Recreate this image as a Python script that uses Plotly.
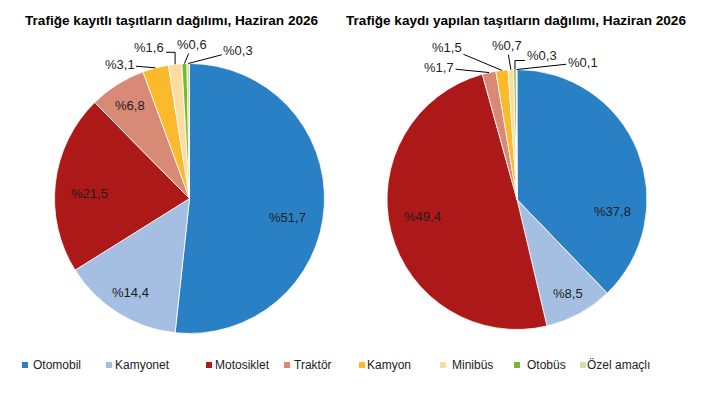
import math
import plotly.graph_objects as go

# vehicle categories (legend order = slice order, clockwise from 12 o'clock)
categories = ["Otomobil", "Kamyonet", "Motosiklet", "Traktör",
              "Kamyon", "Minibüs", "Otobüs", "Özel amaçlı"]

# share of registered vehicles, June 2026 (%)
registered = [51.7, 14.4, 21.5, 6.8, 3.1, 1.6, 0.6, 0.3]
# share of newly registered vehicles, June 2026 (%)
new_registrations = [37.8, 8.5, 49.4, 1.7, 1.5, 0.7, 0.3, 0.1]

titles = ["Trafiğe kayıtlı taşıtların dağılımı, Haziran 2026",
          "Trafiğe kaydı yapılan taşıtların dağılımı, Haziran 2026"]

colors = ["#2a80c5", "#a5bfe3", "#ad1818", "#d98a76",
          "#fbb92c", "#fddca1", "#79b82b", "#cfe2a8"]

# page is 707x402, the html body adds an 8px margin
PAGE_W, PAGE_H, OFF = 707, 402, 8
W, H = PAGE_W - 2 * OFF, PAGE_H - 2 * OFF
FONT = "Liberation Sans, Arial, sans-serif"


def xp(px):
    return (px - OFF) / W


def yp(py):
    return 1 - (py - OFF) / H


# pie geometry in page pixels: centre x, centre y, radius
pies = [
    dict(cx=189.5, cy=198.5, r=135),
    dict(cx=517.0, cy=199.5, r=130),
]

# leader-line label offsets (px) for the thin slices, by category index
callouts = [
    {4: (-36, -3), 5: (-26, -17), 6: (8, -19), 7: (50, -13)},
    {3: (-50, -5), 4: (-55, -23), 5: (-4, -24), 6: (27, -14), 7: (66, -7)},
]
# callouts whose leader line is drawn with an elbow
elbows = [{5}, {6}]
# "best fit" angular nudge (deg) of inside labels, by category index
label_nudge = [{0: 8, 2: -4}, {0: 29, 2: 4}]

# legend layout (page pixels): marker left edges, text starts, row centre
legend_marker_x = [22, 106, 206, 284, 359, 440, 514, 580]
legend_text_x = [33, 115, 215, 294, 367, 452, 527, 587]
legend_y = 365


def pct(v):
    return "%" + f"{v:.1f}".replace(".", ",")


fig = go.Figure()
annotations = []
shapes = []
label_font = dict(family=FONT, size=13, color="#1e1e1e")

for k, values in enumerate([registered, new_registrations]):
    g = pies[k]
    fig.add_trace(go.Pie(
        labels=categories,
        values=values,
        sort=False,
        direction="clockwise",
        rotation=0,
        textinfo="none",
        hoverinfo="label+value",
        marker=dict(colors=colors, line=dict(color="white", width=0.8)),
        domain=dict(x=[xp(g["cx"] - g["r"]), xp(g["cx"] + g["r"])],
                    y=[yp(g["cy"] + g["r"]), yp(g["cy"] - g["r"])]),
        showlegend=False,
    ))

    total = sum(values)
    cum = 0
    for i, v in enumerate(values):
        mid = (cum + v / 2) / total * 360
        cum += v
        if i in callouts[k]:
            th = math.radians(mid)
            ex = g["cx"] + g["r"] * math.sin(th)
            ey = g["cy"] - g["r"] * math.cos(th)
            ax, ay = callouts[k][i]
            if i in elbows[k]:
                lx, ly = ex + ax, ey + ay
                side = 1 if ex > lx else -1
                sx, sy = lx + side * 17, ly + 5
                shapes.append(dict(
                    type="path", xref="paper", yref="paper",
                    path=f"M {xp(sx)} {yp(sy)} L {xp(ex)} {yp(sy)} L {xp(ex)} {yp(ey)}",
                    line=dict(color="#000000", width=1),
                ))
                annotations.append(dict(
                    x=xp(lx), y=yp(ly), xref="paper", yref="paper",
                    text=pct(v), showarrow=False,
                    xanchor="center", yanchor="middle", font=label_font,
                ))
            else:
                annotations.append(dict(
                    x=xp(ex), y=yp(ey), xref="paper", yref="paper",
                    text=pct(v), showarrow=True, ax=ax, ay=ay,
                    arrowhead=0, arrowwidth=1, arrowcolor="#000000",
                    standoff=0, font=label_font,
                ))
        else:
            th = math.radians(mid + label_nudge[k].get(i, 0))
            f = 0.82 if v < 20 else 0.74
            px = g["cx"] + f * g["r"] * math.sin(th)
            py = g["cy"] - f * g["r"] * math.cos(th)
            annotations.append(dict(
                x=xp(px), y=yp(py), xref="paper", yref="paper",
                text=pct(v), showarrow=False,
                xanchor="center", yanchor="middle", font=label_font,
            ))

for title, xc in zip(titles, [171.5, 515.5]):
    annotations.append(dict(
        x=xp(xc), y=yp(20), xref="paper", yref="paper",
        text="<b>" + title + "</b>", showarrow=False,
        xanchor="center", yanchor="middle",
        font=dict(family=FONT, size=13.6, color="#000000"),
    ))

# legend drawn as small coloured squares plus labels
for cat, c, mx, tx in zip(categories, colors, legend_marker_x, legend_text_x):
    shapes.append(dict(
        type="rect", xref="paper", yref="paper",
        x0=xp(mx), x1=xp(mx + 6), y0=yp(legend_y + 3), y1=yp(legend_y - 3),
        fillcolor=c, line=dict(width=0),
    ))
    annotations.append(dict(
        x=xp(tx), y=yp(legend_y), xref="paper", yref="paper",
        text=cat, showarrow=False, xanchor="left", yanchor="middle",
        xshift=-2,
        font=dict(family=FONT, size=12, color="#222222"),
    ))

fig.update_layout(
    width=W, height=H,
    margin=dict(l=0, r=0, t=0, b=0),
    paper_bgcolor="white",
    plot_bgcolor="white",
    annotations=annotations,
    shapes=shapes,
    showlegend=False,
)

fig.write_html("out.html")
